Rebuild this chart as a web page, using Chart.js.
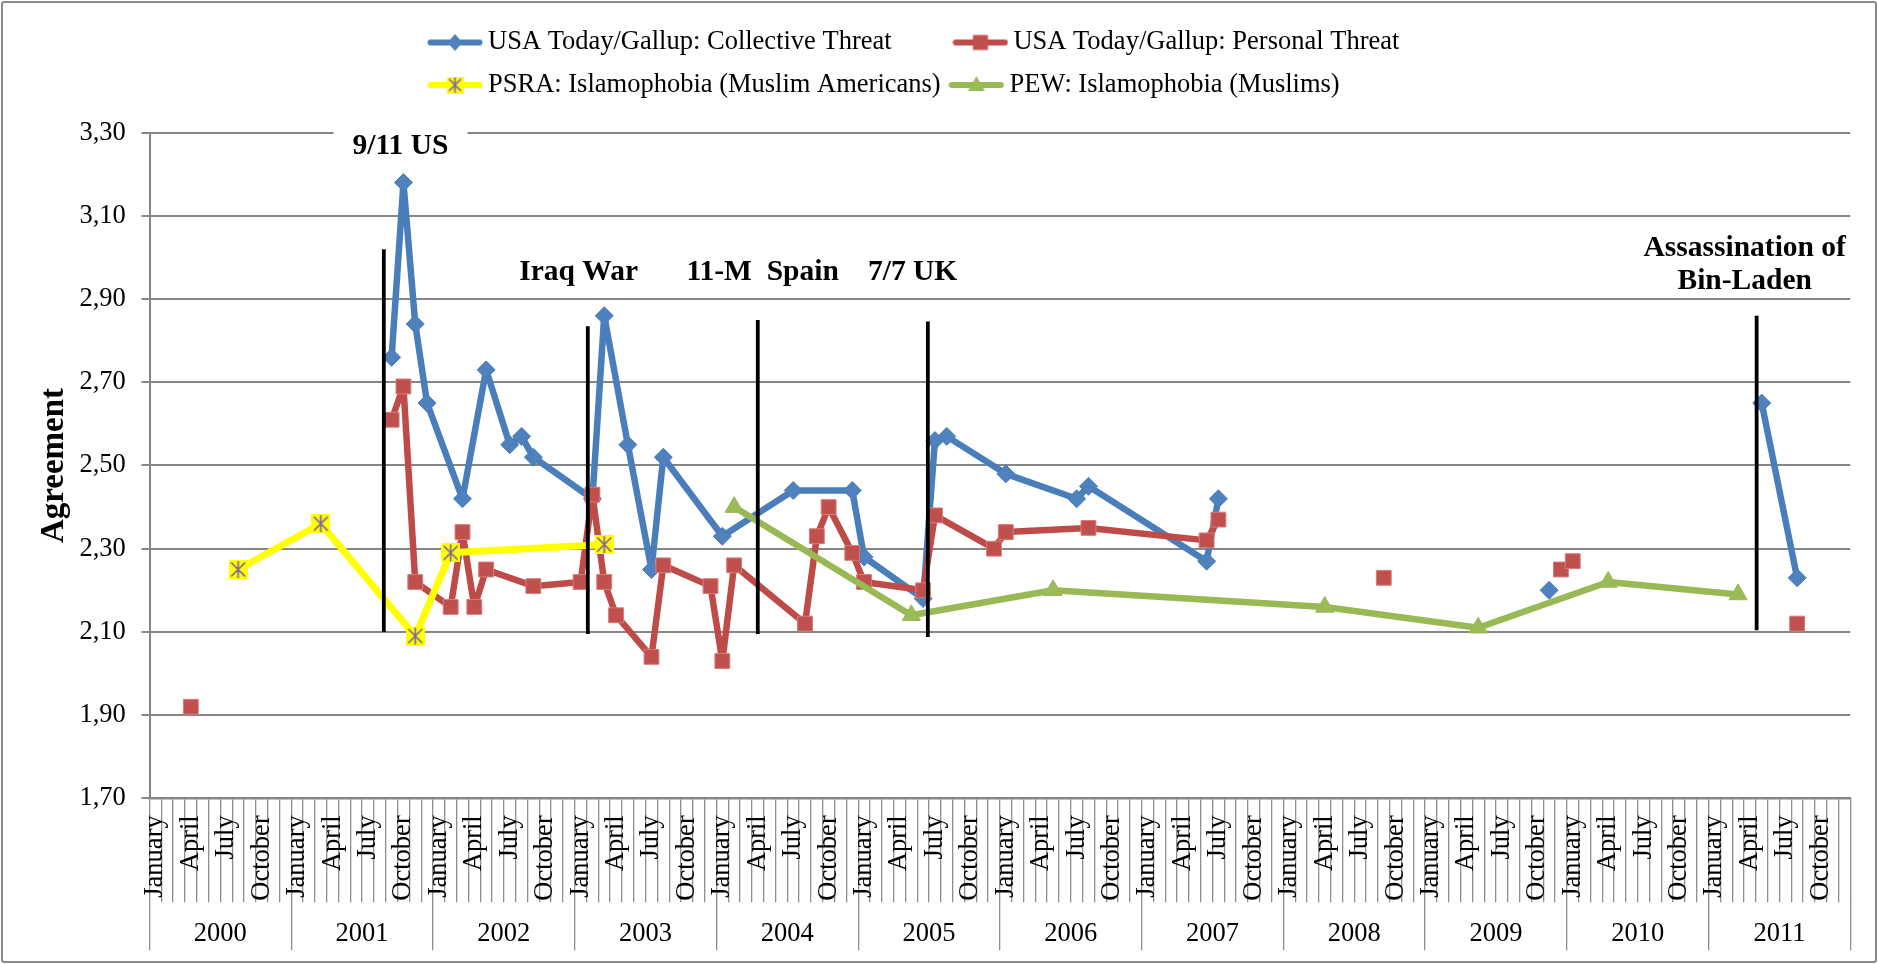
<!DOCTYPE html>
<html><head><meta charset="utf-8">
<script src="https://cdn.jsdelivr.net/npm/chart.js@4.4.0/dist/chart.umd.min.js"></script>
<style>
html,body{margin:0;padding:0;background:#fff;}
#wrap{position:relative;width:1878px;height:964px;}
#frame{position:absolute;left:1px;top:1px;width:1876px;height:962px;box-sizing:border-box;border:2px solid #8a8a8a;border-radius:3px;pointer-events:none;}
canvas{display:block;}
</style></head>
<body><div id="wrap"><canvas id="c" width="1878" height="964"></canvas><div id="frame"></div></div>
<script>
// ---------- data ----------
const years = ['2000','2001','2002','2003','2004','2005','2006','2007','2008','2009','2010','2011'];
const monthNames = ['January','February','March','April','May','June','July','August','September','October','November','December'];
const labeledMonths = ['January','April','July','October'];
const seriesNames = ['USA Today/Gallup: Collective Threat','USA Today/Gallup: Personal Threat','PSRA: Islamophobia (Muslim Americans)','PEW: Islamophobia (Muslims)'];

const collectiveMonths = ['September 2001','October 2001','November 2001','December 2001','March 2002','May 2002','July 2002','August 2002','September 2002','February 2003','March 2003','May 2003','July 2003','August 2003','January 2004','July 2004','December 2004','January 2005','June 2005','July 2005','August 2005','January 2006','July 2006','August 2006','June 2007','July 2007','August 2007','November 2009','December 2009','May 2011','August 2011'];
const collectiveValues = [2.76,3.18,2.84,2.65,2.42,2.73,2.55,2.57,2.52,2.42,2.86,2.55,2.25,2.52,2.33,2.44,2.44,2.28,2.18,2.56,2.57,2.48,2.42,2.45,2.27,2.42,null,2.20,null,2.65,2.23];

const personalMonths = ['April 2000','May 2000','September 2001','October 2001','November 2001','February 2002','March 2002','April 2002','May 2002','September 2002','January 2003','February 2003','March 2003','April 2003','July 2003','August 2003','December 2003','January 2004','February 2004','August 2004','September 2004','October 2004','December 2004','January 2005','June 2005','July 2005','December 2005','January 2006','August 2006','June 2007','July 2007','August 2007','September 2008','October 2008','December 2009','January 2010','February 2010','August 2011'];
const personalValues = [1.92,null,2.61,2.69,2.22,2.16,2.34,2.16,2.25,2.21,2.22,2.43,2.22,2.14,2.04,2.26,2.21,2.03,2.26,2.12,2.33,2.40,2.29,2.22,2.20,2.38,2.30,2.34,2.35,2.32,2.37,null,2.23,null,2.25,2.27,null,2.12];

const psraMonths = ['August 2000','March 2001','November 2001','February 2002','March 2003'];
const psraValues = [2.25,2.36,2.09,2.29,2.31];

const pewMonths = ['February 2004','May 2005','May 2006','April 2008','May 2009','April 2010','March 2011'];
const pewValues = [2.40,2.14,2.20,2.16,2.11,2.22,2.19];

// event markers (month index from January 2000, agreement values)
const eventNames = [['9/11 US'],['Iraq War'],['11-M  Spain'],['7/7 UK'],['Assassination of','Bin-Laden']];
const eventLinePos = [19.34, 36.61, 51.0, 65.4, 135.57];
const eventLineTop = [3.02, 2.835, 2.85, 2.846, 2.86];
const eventLineBottom = [2.10, 2.095, 2.095, 2.088, 2.104];
// ---------- end data ----------

const eventLabelAnchors = [
  {x: 20.75, y: [3.248], box: true},
  {x: 35.83, y: [2.946]},
  {x: 51.41, y: [2.946]},
  {x: 64.11, y: [2.946]},
  {x: 134.56, y: [3.0036, 2.9236]}
];

const categories = years.flatMap(y => monthNames.map(m => m + ' ' + y));
const toPoints = (months, values) => months.map((m, i) => ({x: m, y: values[i]}));

const COL = {blue: '#4A7EBB', blueFill: '#4F81BD', red: '#BE4B48', redFill: '#C0504D', yellow: '#FFFF00', purple: '#8064A2', green: '#98B954', greenFill: '#9BBB59'};
const GRID = '#868686';
const FONT = 'Liberation Serif';

function psraMarker(size) {
  const c = document.createElement('canvas'); c.width = size; c.height = size;
  const g = c.getContext('2d');
  g.fillStyle = COL.yellow; g.fillRect(0, 0, size, size);
  g.strokeStyle = COL.purple; g.lineWidth = 1.7;
  g.beginPath();
  g.moveTo(2.5, 2.5); g.lineTo(size - 2.5, size - 2.5);
  g.moveTo(size - 2.5, 2.5); g.lineTo(2.5, size - 2.5);
  g.moveTo(size / 2, 1); g.lineTo(size / 2, size - 1);
  g.stroke();
  return c;
}
const psraPoint = psraMarker(19);

function legendIcon(color, marker) {
  const c = document.createElement('canvas'); c.width = 56; c.height = 26;
  const g = c.getContext('2d');
  g.strokeStyle = color; g.lineWidth = 6; g.lineCap = 'round';
  g.beginPath(); g.moveTo(3.5, 13); g.lineTo(52.5, 13); g.stroke();
  marker(g, 28, 13);
  return c;
}
const legendIcons = [
  legendIcon(COL.blue, (g, x, y) => { g.fillStyle = COL.blueFill; g.beginPath(); g.moveTo(x, y - 8.5); g.lineTo(x + 7.5, y); g.lineTo(x, y + 8.5); g.lineTo(x - 7.5, y); g.closePath(); g.fill(); }),
  legendIcon(COL.red, (g, x, y) => { g.fillStyle = COL.redFill; g.fillRect(x - 7.5, y - 7.5, 15, 15); }),
  legendIcon(COL.yellow, (g, x, y) => { g.drawImage(psraMarker(17), x - 8.5, y - 8.5); }),
  legendIcon(COL.green, (g, x, y) => { g.fillStyle = COL.greenFill; g.beginPath(); g.moveTo(x, y - 9); g.lineTo(x + 8.5, y + 6); g.lineTo(x - 8.5, y + 6); g.closePath(); g.fill(); })
];

const eventDatasets = eventLinePos.map((p, i) => ({
  label: 'event' + i,
  xAxisID: 'x2',
  data: [{x: p, y: eventLineBottom[i]}, {x: p, y: eventLineTop[i]}],
  borderColor: '#000', borderWidth: 3.8, pointRadius: 0, borderCapStyle: 'butt', order: 0
}));

const layoutTweak = {
  id: 'layoutTweak',
  afterLayout(chart) {
    const lg = chart.legend;
    if (!lg) return;
    lg.left = 419.25; lg.right = 1600;
    lg.top = 13.25; lg.bottom = lg.top + lg.height;
  }
};

const eventText = {
  id: 'eventText',
  beforeDatasetsDraw(chart) {
    const xs = chart.scales.x2, ys = chart.scales.y, ctx = chart.ctx;
    ctx.save();
    ctx.font = 'bold 29.5px "' + FONT + '"';
    eventLabelAnchors.forEach((a, i) => {
      if (!a.box) return;
      const t = eventNames[i][0];
      const w = ctx.measureText(t).width;
      const px = xs.getPixelForValue(a.x), py = ys.getPixelForValue(a.y[0]);
      ctx.fillStyle = '#fff';
      ctx.fillRect(px - w / 2 - 19, py - 36, w + 38, 48);
    });
    ctx.restore();
  },
  afterDatasetsDraw(chart) {
    const xs = chart.scales.x2, ys = chart.scales.y, ctx = chart.ctx;
    ctx.save();
    ctx.font = 'bold 29.5px "' + FONT + '"';
    ctx.textAlign = 'center'; ctx.textBaseline = 'alphabetic'; ctx.fillStyle = '#000';
    eventLabelAnchors.forEach((a, i) => {
      eventNames[i].forEach((t, j) => {
        ctx.fillText(t, xs.getPixelForValue(a.x), ys.getPixelForValue(a.y[j]));
      });
    });
    ctx.restore();
  }
};

Chart.defaults.font.family = FONT;
Chart.defaults.color = '#000';

new Chart(document.getElementById('c'), {
  type: 'line',
  data: {
    labels: categories,
    datasets: [
      {label: seriesNames[0], data: toPoints(collectiveMonths, collectiveValues), borderColor: COL.blue, backgroundColor: COL.blueFill,
       borderWidth: 6.5, pointStyle: 'rectRot', pointRadius: 9, pointBorderWidth: 1, pointBorderColor: COL.blue, pointBackgroundColor: COL.blueFill, order: 4},
      {label: seriesNames[1], data: toPoints(personalMonths, personalValues), borderColor: COL.red, backgroundColor: COL.redFill,
       borderWidth: 6.5, pointStyle: 'rect', pointRadius: 10.5, pointBorderWidth: 1, pointBorderColor: '#D77C7A', pointBackgroundColor: COL.redFill, order: 3},
      {label: seriesNames[2], data: toPoints(psraMonths, psraValues), borderColor: COL.yellow, backgroundColor: COL.yellow,
       borderWidth: 7, pointStyle: psraPoint, pointRadius: 10, order: 2},
      {label: seriesNames[3], data: toPoints(pewMonths, pewValues), borderColor: COL.green, backgroundColor: COL.greenFill,
       borderWidth: 6.5, pointStyle: 'triangle', pointRadius: 10.5, pointBorderWidth: 1, pointBorderColor: COL.green, pointBackgroundColor: COL.greenFill, order: 1},
      ...eventDatasets
    ]
  },
  options: {
    responsive: false, devicePixelRatio: 1, animation: false, events: [],
    layout: {padding: {left: 3, right: 27.7, top: 37.7, bottom: 12.7}},
    elements: {line: {tension: 0, borderJoinStyle: 'round', borderCapStyle: 'round'}},
    plugins: {
      tooltip: {enabled: false},
      legend: {
        position: 'top', align: 'start',
        labels: {
          usePointStyle: true, pointStyleWidth: 39.5, padding: 16,
          font: {size: 26.5, family: FONT}, color: '#000',
          generateLabels: () => seriesNames.map((n, i) => ({
            text: i === 0 ? n + '        ' : n,
            pointStyle: legendIcons[i], fillStyle: 'transparent', strokeStyle: 'transparent',
            lineWidth: 0, hidden: false, datasetIndex: i, fontColor: '#000'
          }))
        }
      }
    },
    scales: {
      x: {
        type: 'category', labels: categories, position: 'bottom', weight: 0, offset: true,
        grid: {offset: true, drawOnChartArea: false, drawTicks: true, tickLength: 104, color: '#8e8e8e', lineWidth: 1.3},
        border: {display: true, color: GRID, width: 2.5},
        ticks: {autoSkip: false, minRotation: 90, maxRotation: 90, padding: -87, font: {size: 26.5}, color: '#000',
          callback: (v, i) => labeledMonths.includes(monthNames[i % 12]) ? monthNames[i % 12] : ''},
        afterFit: s => { s.height = 104; }
      },
      xYear: {
        type: 'category', labels: years, position: 'bottom', weight: 1, offset: true,
        grid: {offset: true, drawOnChartArea: false, drawTicks: true, tickLength: 48, color: '#8e8e8e', lineWidth: 1.3},
        border: {display: false},
        ticks: {autoSkip: false, minRotation: 0, maxRotation: 0, padding: -32, font: {size: 26.5}, color: '#000'},
        afterFit: s => { s.height = 49; }
      },
      x2: {type: 'linear', display: false, min: -0.5, max: 143.5},
      y: {
        min: 1.7, max: 3.3,
        ticks: {stepSize: 0.2, padding: 15.7, font: {size: 26.5}, color: '#000', callback: v => v.toFixed(2).replace('.', ',')},
        grid: {color: GRID, lineWidth: 2, tickLength: 8, drawTicks: true},
        border: {display: true, color: GRID, width: 2},
        title: {display: true, text: 'Agreement', font: {size: 33, weight: 'bold'}, color: '#000', padding: {top: 32, bottom: 0}},
        afterFit: s => { s.width = 146.5; }
      }
    }
  },
  plugins: [layoutTweak, eventText]
});
</script>
</body></html>
